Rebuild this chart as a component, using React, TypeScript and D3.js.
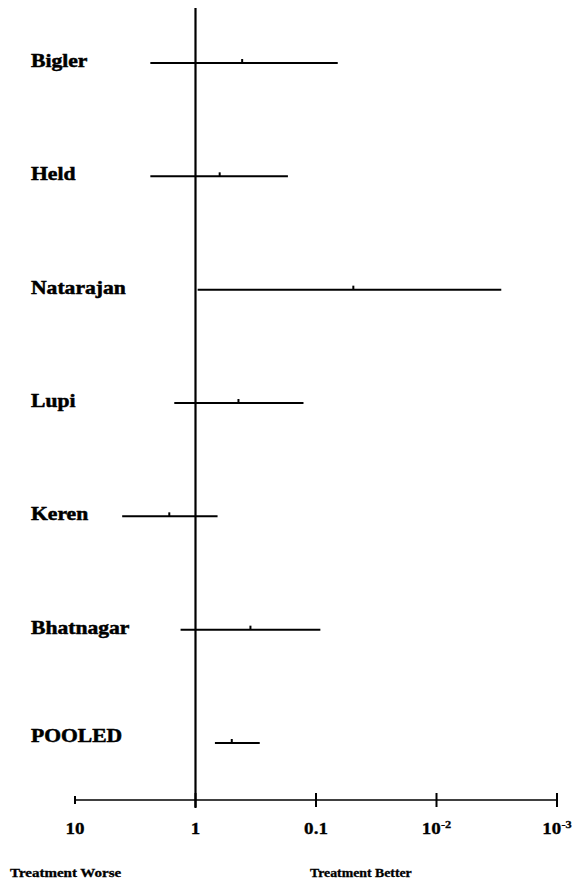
import React from "react";
import * as d3 from "d3";

const studies = ["Bigler", "Held", "Natarajan", "Lupi", "Keren", "Bhatnagar", "POOLED"];
const estimates = [0.41, 0.63, 0.049, 0.44, 1.65, 0.35, 0.5];
const lower = [0.066, 0.171, 0.0029, 0.127, 0.656, 0.092, 0.293];
const upper = [2.37, 2.37, 0.96, 1.5, 4.06, 1.33, 0.69];
const tickValues = [10, 1, 0.1, 0.01, 0.001];
const tickLabels = [
  { base: "10", exp: "" },
  { base: "1", exp: "" },
  { base: "0.1", exp: "" },
  { base: "10", exp: "-2" },
  { base: "10", exp: "-3" },
];

const W = 584;
const H = 884;
const FONT = "'Liberation Serif', 'Times New Roman', serif";

export default function App() {
  const x = d3.scaleLog().domain([10, 0.001]).range([75, 557]);
  const y = d3.scalePoint<string>().domain(studies).range([63, 743]);
  const axisY = 800;
  const x1 = x(1);

  return (
    <svg
      width={W}
      height={H}
      style={{ position: "absolute", left: 0, top: 0, background: "#fff" }}
    >
      {/* reference line at 1 */}
      <line x1={x1} x2={x1} y1={8} y2={808} stroke="#000" strokeWidth={2.2} />

      {/* rows */}
      {studies.map((s, i) => {
        const yy = y(s) as number;
        const isPooled = s === "POOLED";
        return (
          <g key={s}>
            <g transform={`translate(31,${yy + (isPooled ? -5 : 0)}) scale(1.2,1)`}>
              <text
                x={0}
                y={0}
                dominantBaseline="middle"
                fontFamily={FONT}
                fontWeight="bold"
                fontSize={18}
                stroke="#000"
                strokeWidth={0.5}
              >
                {s}
              </text>
            </g>
            <line
              x1={x(upper[i])}
              x2={x(lower[i])}
              y1={yy}
              y2={yy}
              stroke="#000"
              strokeWidth={2}
            />
            <line
              x1={x(estimates[i])}
              x2={x(estimates[i])}
              y1={yy}
              y2={yy - 4}
              stroke="#000"
              strokeWidth={2}
            />
          </g>
        );
      })}

      {/* x axis */}
      <line x1={x(10)} x2={x(0.001)} y1={axisY} y2={axisY} stroke="#000" strokeWidth={1.6} />
      {tickValues.map((v, i) => (
        <g key={v}>
          <line
            x1={x(v)}
            x2={x(v)}
            y1={axisY - (i === 0 ? 4 : 7)}
            y2={axisY + (i === 0 ? 4 : 7)}
            stroke="#000"
            strokeWidth={2}
          />
          <g transform={`translate(${x(v)},834) scale(1.12,1)`}>
            <text
              x={0}
              y={0}
              textAnchor="middle"
              fontFamily={FONT}
              fontWeight="bold"
              fontSize={17}
              stroke="#000"
              strokeWidth={0.3}
            >
              {tickLabels[i].base}
              {tickLabels[i].exp && (
                <tspan dy={-6} fontSize={11}>
                  {tickLabels[i].exp}
                </tspan>
              )}
            </text>
          </g>
        </g>
      ))}

      <g transform="translate(10,877) scale(1.25,1)">
        <text x={0} y={0} fontFamily={FONT} fontWeight="bold" fontSize={12} stroke="#000" strokeWidth={0.3}>
          Treatment Worse
        </text>
      </g>
      <g transform="translate(310,877) scale(1.15,1)">
        <text x={0} y={0} fontFamily={FONT} fontWeight="bold" fontSize={12} stroke="#000" strokeWidth={0.3}>
          Treatment Better
        </text>
      </g>
    </svg>
  );
}
